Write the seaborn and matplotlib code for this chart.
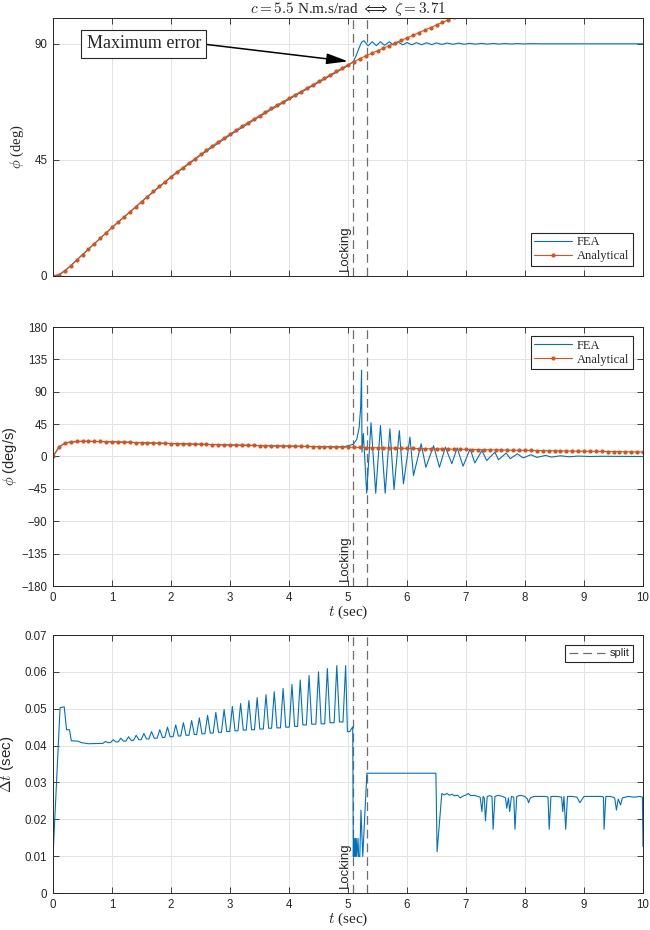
import numpy as np
import pandas as pd
import matplotlib
matplotlib.use("Agg")
import matplotlib.pyplot as plt
import seaborn as sns
from matplotlib.transforms import blended_transform_factory

# ---------------- data ----------------
t_lock = [5.09, 5.32]

# Analytical angle (deg), sampled every 0.1 s from 0 to 7.0 s
an_pos_t = np.round(np.arange(0, 7.05, 0.1), 1)
an_pos = [0.0, 0.5, 2.0, 4.0, 6.1, 8.3, 10.4, 12.5, 14.6, 16.7,
          18.8, 20.8, 22.8, 24.8, 26.8, 28.8, 30.8, 32.8, 34.7, 36.6,
          38.5, 40.3, 42.0, 43.7, 45.4, 47.1, 48.8, 50.4, 52.0, 53.5,
          55.0, 56.5, 58.0, 59.4, 60.8, 62.2, 63.6, 65.0, 66.3, 67.6,
          68.9, 70.2, 71.5, 72.8, 74.1, 75.4, 76.7, 78.0, 79.3, 80.6,
          81.9, 83.1, 84.2, 85.3, 86.3, 87.3, 88.3, 89.3, 90.3, 91.3,
          92.3, 93.3, 94.3, 95.3, 96.3, 97.3, 98.3, 99.3, 100.3, 101.3,
          102.3]

# FEA angle (deg)
fea_pos_t = [0, 0.1, 0.2, 0.3, 0.4, 0.5, 0.7, 1.0, 1.5, 2.0, 2.5, 3.0, 3.5,
             4.0, 4.5, 5.0, 5.09, 5.14, 5.19,
             5.23, 5.27, 5.34, 5.41, 5.48, 5.55, 5.62, 5.70, 5.77, 5.85,
             5.93, 6.0, 6.08, 6.16, 6.25, 6.33, 6.42, 6.5, 6.59, 6.68, 6.78,
             6.87, 6.97, 7.06, 7.16, 7.26, 7.36, 7.46, 7.56, 7.66, 7.77,
             7.87, 7.98, 8.08, 8.3, 10]
fea_pos = [0, 0.5, 2.0, 4.0, 6.1, 8.3, 12.5, 18.8, 28.7, 38.3, 46.8, 54.6,
           61.8, 68.5, 75.0, 81.5,
           83.1, 85.5, 88.5, 90.6, 91.2, 89.2, 90.8, 89.3, 90.8, 89.4, 90.8,
           89.5, 90.7, 89.6, 90.5, 89.6, 90.45, 89.65, 90.4, 89.7, 90.35,
           89.75, 90.3, 89.8, 90.25, 89.82, 90.2, 89.85, 90.15, 89.88, 90.12,
           89.9, 90.1, 89.92, 90.08, 89.95, 90.04, 90.0, 90.0]

# Analytical angular velocity (deg/s), every 0.1 s from 0 to 10 s
an_vel_t = np.round(np.arange(0, 10.05, 0.1), 1)
an_vel = [0, 13, 18.6, 20.2, 20.9, 21.1, 21.1, 21.0, 20.9, 20.7,
          20.4, 20.15, 19.9, 19.65, 19.4, 19.15, 18.9, 18.7, 18.5, 18.25,
          18.0, 17.8, 17.6, 17.4, 17.2, 17.0, 16.8, 16.6, 16.4, 16.2,
          16.0, 15.85, 15.7, 15.55, 15.4, 15.2, 15.05, 14.9, 14.75, 14.6,
          14.4, 14.25, 14.1, 13.95, 13.8, 13.7, 13.55, 13.4, 13.25, 13.1,
          13.0, 12.8, 12.65, 12.5, 12.3, 12.15, 12.0, 11.8, 11.65, 11.5,
          11.3, 11.15, 11.0, 10.85, 10.7, 10.55, 10.4, 10.25, 10.1, 9.95,
          9.8, 9.65, 9.5, 9.4, 9.25, 9.15, 9.0, 8.9, 8.75, 8.6,
          8.5, 8.4, 8.25, 8.15, 8.0, 7.9, 7.8, 7.65, 7.55, 7.4,
          7.3, 7.2, 7.1, 7.0, 6.9, 6.75, 6.65, 6.55, 6.45, 6.3,
          6.2]

# FEA angular velocity (deg/s)
fea_vel_t = [0, 0.1, 0.2, 0.3, 0.5, 1.0, 2.0, 3.0, 4.0, 4.5, 4.8, 4.92, 5.0,
             5.09, 5.15, 5.19, 5.215, 5.23, 5.237, 5.26, 5.317, 5.39, 5.47,
             5.55, 5.63, 5.71, 5.78, 5.87, 5.94, 6.05, 6.11, 6.24, 6.32,
             6.45, 6.55, 6.65, 6.76, 6.85, 6.95, 7.07, 7.15, 7.27, 7.35,
             7.49, 7.55, 7.68, 7.75, 7.87, 7.97, 8.1, 8.2, 8.35, 8.45, 8.6,
             8.75, 8.9, 9.1, 9.3, 10.0]
fea_vel = [0, 13, 18.6, 20.2, 21.1, 20.4, 18.0, 16.0, 14.4, 13.7, 13.4, 13.5,
           15, 17, 24, 41, 69, 120, 6, 32, -51, 47, -51, 43, -51, 38.5, -46,
           36, -38, 27, -26.5, 17.7, -15, 15, -15, 13, -10, 12, -13.5, 10.7,
           -9, 8.4, -5.6, 6, -4.6, 4.8, -3, 3.7, -2, 2.5, -1.2, 1.5, -0.8,
           1.0, -0.4, 0.6, 0.0, 0.3, 0.0]

# FEA time step (s): start-up segment
dt_start_t = [0, 0.12, 0.19, 0.23, 0.28, 0.31, 0.42, 0.48, 0.6, 0.8]
dt_start_v = [0.0099, 0.0503, 0.0505, 0.0443, 0.0443, 0.0413, 0.0412,
              0.0408, 0.0405, 0.0406]
# saw-tooth peaks and the valley level before each peak
saw_peak_t = [0.89, 1.02, 1.15, 1.28, 1.41, 1.54, 1.67, 1.81, 1.94, 2.08,
              2.21, 2.35, 2.48, 2.62, 2.76, 2.90, 3.04, 3.18, 3.32, 3.46,
              3.61, 3.75, 3.90, 4.05, 4.19, 4.34, 4.50, 4.65, 4.81, 4.96]
saw_peak_v = [0.0411, 0.0416, 0.0420, 0.0424, 0.0428, 0.0433, 0.0438,
              0.0443, 0.0450, 0.0456, 0.0462, 0.0468, 0.0475, 0.0482,
              0.0490, 0.0498, 0.0506, 0.0514, 0.0522, 0.0530, 0.0538,
              0.0546, 0.0555, 0.0566, 0.0578, 0.0590, 0.0600, 0.0609,
              0.0617, 0.0617]
saw_valley_v = [0.0406, 0.0408, 0.0410, 0.0412, 0.0414, 0.0416, 0.0418,
                0.0420, 0.0422, 0.0424, 0.0426, 0.0428, 0.0430, 0.0432,
                0.0434, 0.0436, 0.0438, 0.0440, 0.0442, 0.0443, 0.0445,
                0.0447, 0.0448, 0.0450, 0.0452, 0.0456, 0.0458, 0.0459,
                0.0462, 0.0464]
# locking and after
dt_end_t = [4.99, 5.03, 5.08, 5.09, 5.10, 5.11, 5.12, 5.13, 5.14, 5.15,
            5.17, 5.18, 5.20, 5.22, 5.25, 5.32, 6.49, 6.51, 6.59, 6.63,
            6.68, 6.72, 6.76, 6.80, 6.86, 6.90, 6.95, 7.00, 7.04, 7.08,
            7.14, 7.20, 7.24, 7.27, 7.29, 7.31, 7.33, 7.36, 7.40, 7.44,
            7.46, 7.49, 7.55, 7.62, 7.67, 7.69, 7.72, 7.74, 7.77, 7.81,
            7.83, 7.86, 7.92, 8.00, 8.04, 8.06, 8.09, 8.15, 8.25, 8.35,
            8.39, 8.41, 8.44, 8.55, 8.62, 8.64, 8.66, 8.69, 8.72, 8.80,
            8.88, 8.93, 8.97, 9.00, 9.10, 9.20, 9.30, 9.33, 9.34, 9.37,
            9.45, 9.52, 9.55, 9.58, 9.62, 9.65, 9.75, 9.85, 9.95, 9.99,
            10.0]
dt_end_v = [0.0438, 0.0438, 0.0451, 0.0099, 0.0148, 0.0099, 0.0148, 0.0099,
            0.0148, 0.0099, 0.0148, 0.0099, 0.0099, 0.0225, 0.0099, 0.0325,
            0.0325, 0.0112, 0.0270, 0.0266, 0.0270, 0.0265, 0.0268, 0.0264,
            0.0265, 0.0258, 0.0263, 0.0266, 0.0270, 0.0264, 0.0265, 0.0262,
            0.0260, 0.0221, 0.0262, 0.0258, 0.0196, 0.0262, 0.0264, 0.0262,
            0.0173, 0.0262, 0.0265, 0.0262, 0.0258, 0.0230, 0.0258, 0.0221,
            0.0262, 0.0260, 0.0173, 0.0262, 0.0265, 0.0262, 0.0255, 0.0245,
            0.0258, 0.0262, 0.0262, 0.0262, 0.0260, 0.0173, 0.0262, 0.0262,
            0.0260, 0.0221, 0.0262, 0.0173, 0.0262, 0.0262, 0.0260, 0.0245,
            0.0255, 0.0262, 0.0262, 0.0262, 0.0262, 0.0260, 0.0173, 0.0262,
            0.0262, 0.0258, 0.0225, 0.0255, 0.0239, 0.0258, 0.0262, 0.0260,
            0.0262, 0.0260, 0.0126]

# assemble the time-step polyline from its read vertices
dt_t = list(dt_start_t)
dt_v = list(dt_start_v)
for i, (pt, pv, vv) in enumerate(zip(saw_peak_t, saw_peak_v, saw_valley_v)):
    dt_t += [pt - 0.045, pt]
    dt_v += [vv, pv]
    if i + 1 < len(saw_peak_t):
        dt_t.append(pt + 0.045)
        dt_v.append(saw_valley_v[i + 1])
dt_t += dt_end_t
dt_v += dt_end_v

# ---------------- style ----------------
sns.set_theme(style="ticks")
plt.rcParams["font.family"] = ["Liberation Sans", "DejaVu Sans"]
plt.rcParams["mathtext.fontset"] = "cm"

BLUE = "#0072BD"
ORANGE = "#D95319"
SPINE = "#262626"
GRIDC = "#e3e3e3"
SERIF = ["Liberation Serif", "DejaVu Serif"]

fig = plt.figure(figsize=(6.5, 9.3), dpi=100)
L, W = 53 / 650, 590 / 650
ax1 = fig.add_axes([L, 1 - 276 / 930, W, 258 / 930])
ax2 = fig.add_axes([L, 1 - 586 / 930, W, 259 / 930])
ax3 = fig.add_axes([L, 1 - 893 / 930, W, 258 / 930])


def style(ax):
    ax.set_xlim(0, 10)
    ax.set_xticks(range(0, 11))
    ax.grid(True, color=GRIDC, lw=0.7)
    ax.set_axisbelow(True)
    for s in ax.spines.values():
        s.set_color(SPINE)
        s.set_linewidth(0.7)
        s.set_visible(True)
    ax.tick_params(direction="in", top=True, right=True, length=4,
                   width=0.6, color=SPINE, labelsize=8.3, labelcolor="#262626",
                   pad=4)


def vlines(ax, label=None):
    for i, x in enumerate(t_lock):
        ax.axvline(x, color="#6e6e6e", lw=0.9, ls=(0, (7, 4)), zorder=1.5,
                   label=label if i == 0 else None)
    tr = blended_transform_factory(ax.transData, ax.transAxes)
    ax.text(t_lock[0] - 0.035, 0.02, "Locking", rotation=90, ha="right",
            va="bottom", transform=tr, fontsize=9.5, color="#262626")


def legend(ax, loc, anchor, prop, hl):
    lg = ax.legend(loc=loc, prop=prop, fancybox=False, framealpha=1,
                   edgecolor="#262626", handlelength=hl, borderpad=0.3,
                   labelspacing=0.15, handletextpad=0.4, borderaxespad=0,
                   bbox_to_anchor=anchor)
    lg.get_frame().set_linewidth(0.8)
    return lg


# ---- panel 1: angle ----
sns.lineplot(x=fea_pos_t, y=fea_pos, ax=ax1, color=BLUE, lw=0.8,
             estimator=None, sort=False, label="FEA")
sns.lineplot(x=an_pos_t, y=an_pos, ax=ax1, color=ORANGE, lw=0.8,
             marker="o", markersize=3, markeredgewidth=0, estimator=None,
             sort=False, label="Analytical")
vlines(ax1)
style(ax1)
ax1.set_ylim(0, 100)
ax1.set_yticks([0, 45, 90])
ax1.tick_params(labelbottom=False)
ax1.set_xlabel("")
ax1.set_ylabel(r"$\phi$ (deg)", fontsize=10.5, family=SERIF)
ax1.yaxis.set_label_coords(-0.045, 0.5)
ax1.set_title(r"$c = 5.5$ N.m.s/rad $\Longleftrightarrow$ $\zeta = 3.71$",
              fontsize=11, family=SERIF, pad=3)
ax1.annotate("Maximum error", xy=(5.0, 83.2), xytext=(1.54, 90),
             fontsize=13, family=SERIF, ha="center", va="center",
             bbox=dict(boxstyle="square,pad=0.3", fc="white", ec="#262626",
                       lw=0.8),
             arrowprops=dict(arrowstyle="-|>,head_length=1.0,head_width=0.25",
                             color="black", lw=1.1, relpos=(1.0, 0.5),
                             shrinkA=0, shrinkB=0))
legend(ax1, "lower right", (0.983, 0.039), {"family": SERIF, "size": 9}, 3.0)

# ---- panel 2: angular velocity ----
sns.lineplot(x=fea_vel_t, y=fea_vel, ax=ax2, color=BLUE, lw=0.8,
             estimator=None, sort=False, label="FEA")
sns.lineplot(x=an_vel_t, y=an_vel, ax=ax2, color=ORANGE, lw=0.8,
             marker="o", markersize=3, markeredgewidth=0, estimator=None,
             sort=False, label="Analytical")
vlines(ax2)
style(ax2)
ax2.set_ylim(-180, 180)
ax2.set_yticks(range(-180, 181, 45))
ax2.set_ylabel(r"$\dot{\phi}$ (deg/s)", fontsize=10.5)
ax2.yaxis.set_label_coords(-0.056, 0.5)
ax2.set_xlabel(r"$t$ (sec)", fontsize=11, family=SERIF, labelpad=0)
legend(ax2, "upper right", (0.983, 0.965), {"family": SERIF, "size": 9}, 3.0)

# ---- panel 3: time step ----
sns.lineplot(x=dt_t, y=dt_v, ax=ax3, color=BLUE, lw=0.8, estimator=None,
             sort=False)
vlines(ax3, label="split")
style(ax3)
ax3.set_ylim(0, 0.07)
ax3.set_yticks(np.round(np.arange(0, 0.0701, 0.01), 2))
ax3.set_yticklabels(["0", "0.01", "0.02", "0.03", "0.04", "0.05", "0.06",
                     "0.07"])
ax3.set_ylabel(r"$\Delta t$ (sec)", fontsize=11)
ax3.yaxis.set_label_coords(-0.062, 0.5)
ax3.set_xlabel(r"$t$ (sec)", fontsize=11, family=SERIF, labelpad=0)
legend(ax3, "upper right", (0.983, 0.961), {"size": 8}, 3.3)

fig.savefig("out.png", dpi=100)
